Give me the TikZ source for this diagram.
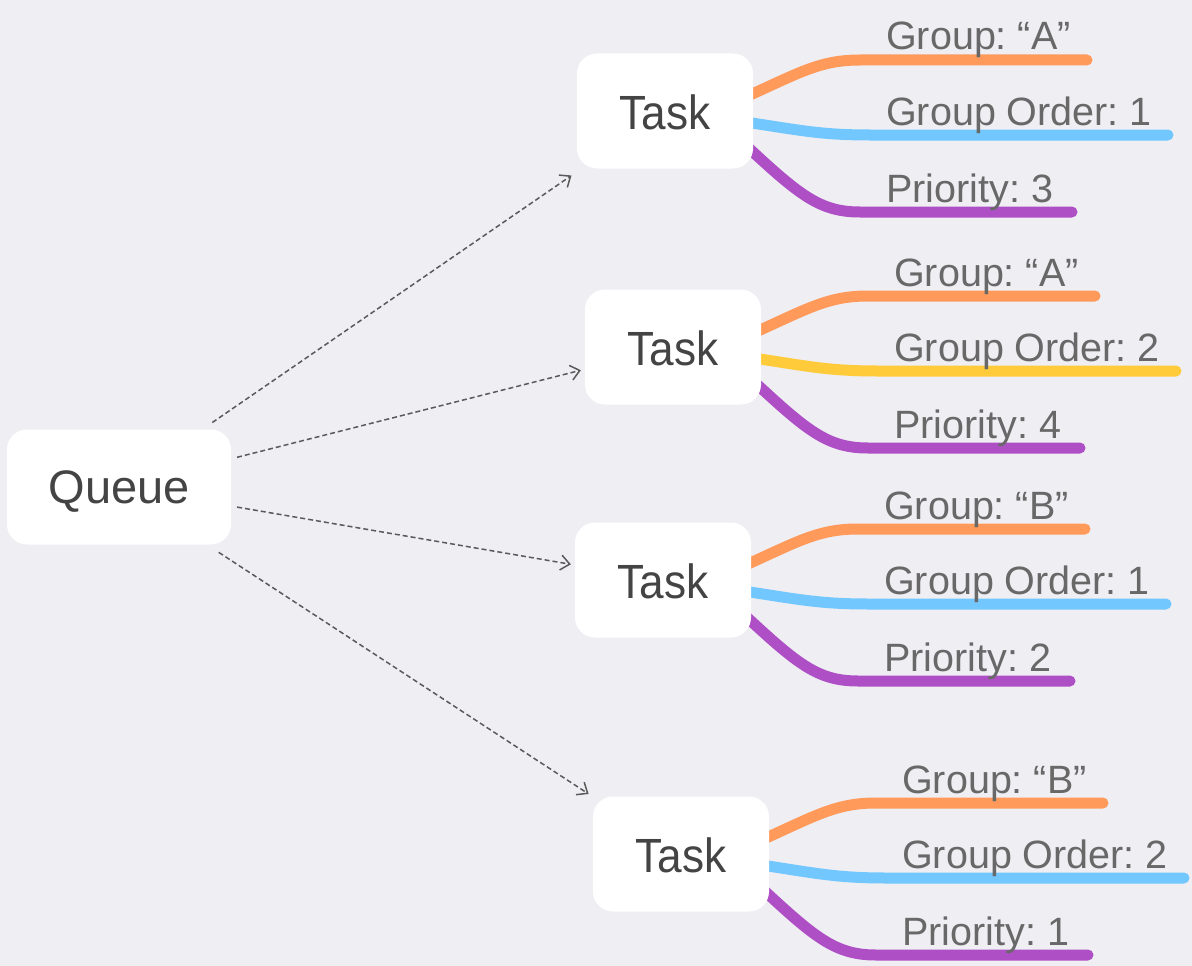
\documentclass[tikz,border=0pt]{standalone}
\usepackage{fontspec}
\setmainfont{Liberation Sans}
\newfontfamily\taskfont[FakeStretch=0.92]{Liberation Sans}
\frenchspacing
\usetikzlibrary{calc,arrows.meta}
\definecolor{bgc}{HTML}{EEEEF3}
\definecolor{corange}{HTML}{FF9A5A}
\definecolor{cblue}{HTML}{73C7FF}
\definecolor{cpurple}{HTML}{AF4FC6}
\definecolor{cyellow}{HTML}{FFCB3A}
\definecolor{boxtext}{HTML}{444444}
\definecolor{labtext}{HTML}{686868}
\definecolor{dashc}{HTML}{5A5A5A}
\pgfdeclarelayer{bg}
\pgfdeclarelayer{canvas}
\pgfsetlayers{canvas,bg,main}
\tikzset{
  box/.style={fill=white, rounded corners=20pt, inner sep=0pt, minimum height=115pt, text=boxtext, text depth=0pt},
  taskbox/.style={box, minimum width=176pt, text height=36pt, font=\taskfont\fontsize{48}{56}\selectfont},
  lab/.style={anchor=base west, inner sep=0pt, text=labtext, font=\fontsize{39.5}{46}\selectfont},
  br/.style={line width=11pt, line cap=round},
  dasharrow/.style={draw=dashc, line width=1.5pt, dash pattern=on 5pt off 3pt, -{Straight Barb[length=9pt,width=15pt,line width=1.5pt]}}
}
\begin{document}
\begin{tikzpicture}[x=1pt,y=-1pt]
\begin{pgfonlayer}{canvas}
\fill[bgc] (0,0) rectangle (1192,966);
\end{pgfonlayer}
\useasboundingbox (0,0) rectangle (1192,966);
\node[box, minimum width=224pt, text height=32pt, font=\fontsize{47}{56}\selectfont] (q) at (119,487) {Queue};
\node[taskbox] (t1) at (665,111) {Task};
\node[taskbox] (t2) at (673,347) {Task};
\node[taskbox] (t3) at (663,580) {Task};
\node[taskbox] (t4) at (681,854) {Task};
\draw[dasharrow, shorten <=12pt, shorten >=12pt] (q) -- (t1);
\draw[dasharrow, shorten <=6pt, shorten >=4pt] (q) -- (t2);
\draw[dasharrow, shorten <=6pt, shorten >=4pt] (q) -- (t3);
\draw[dasharrow, shorten <=14pt, shorten >=5pt] (q) -- (t4);
\foreach \t/\g/\o/\p/\c in {t1/A/1/3/cblue, t2/A/2/4/cyellow, t3/B/1/2/cblue, t4/B/2/1/cblue}{
  \node[lab] (\t-g) at ($(\t.center)+(221,-61)$) {Group: “\g”};
  \node[lab] (\t-o) at ($(\t.center)+(221,14)$) {Group Order: \o};
  \node[lab] (\t-p) at ($(\t.center)+(221,91)$) {Priority: \p};
  \begin{pgfonlayer}{bg}
    \draw[br, corange] ($(\t.center)+(60,-5)$) .. controls ($(\t.center)+(130,-35)$) and ($(\t.center)+(150,-51)$) .. ($(\t-g.base west)+(-26,10)$) -- ($(\t-g.base west)+(201,10)$);
    \draw[br, \c] ($(\t.center)+(60,8)$) .. controls ($(\t.center)+(130,18)$) and ($(\t.center)+(150,24)$) .. ($(\t-o.base west)+(-16,10)$) -- ($(\t-o.base west)+(282,10)$);
    \draw[br, cpurple] ($(\t.center)+(60,15)$) .. controls ($(\t.center)+(130,80)$) and ($(\t.center)+(150,101)$) .. ($(\t-p.base west)+(-26,10)$) -- ($(\t-p.base west)+(186,10)$);
  \end{pgfonlayer}
}
\end{tikzpicture}
\end{document}
